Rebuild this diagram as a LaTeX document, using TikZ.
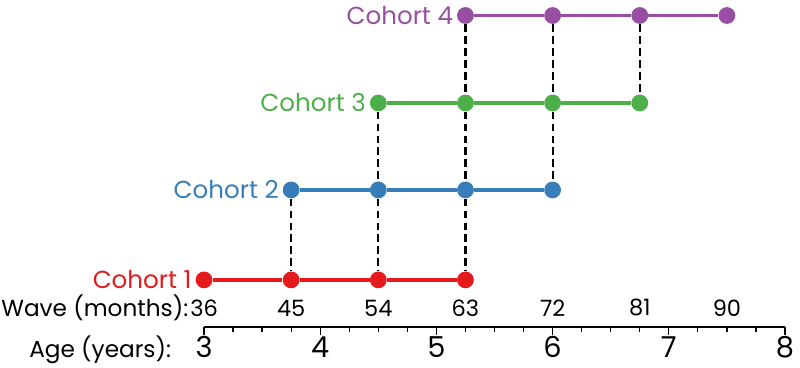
\documentclass[tikz,border=0pt]{standalone}
\usepackage{fontspec}
\setmainfont{Poppins}
\usetikzlibrary{positioning}
\definecolor{cohortred}{HTML}{E41A1C}
\definecolor{cohortblue}{HTML}{377EB8}
\definecolor{cohortgreen}{HTML}{4DAF4A}
\definecolor{cohortpurple}{HTML}{984EA3}

\begin{document}
\begin{tikzpicture}[x=0.2421cm, y=0.025cm,
    dot/.style={circle, inner sep=0pt, minimum size=0.42cm},
    link/.style={line width=2.3pt},
    guide/.style={line width=1.5pt, dash pattern=on 5.5pt off 3pt},
    cohortlab/.style={inner sep=0pt, font=\fontsize{17.5}{20}\selectfont},
    wavelab/.style={inner sep=0pt, font=\fontsize{16}{18}\selectfont},
    titlelab/.style={inner sep=0pt, font=\fontsize{16.5}{19}\selectfont},
    agelab/.style={inner sep=0pt, font=\fontsize{20.5}{23}\selectfont}]
  \useasboundingbox (14.93,0) rectangle (97.55,368);
  \foreach \k/\col/\y in {1/cohortred/88, 2/cohortblue/178, 3/cohortgreen/265, 4/cohortpurple/352.5} {
    \pgfmathtruncatemacro\first{27+9*\k}
    \foreach \j in {0,...,3} {
      \pgfmathtruncatemacro\w{\first+9*\j}
      \node[dot, fill=\col] (c\k w\w) at (\w,\y) {};
    }
    \foreach \j in {0,1,2} {
      \pgfmathtruncatemacro\a{\first+9*\j}
      \pgfmathtruncatemacro\b{\a+9}
      \draw[link, \col] (c\k w\a) -- (c\k w\b);
    }
    \node[cohortlab, text=\col, left=2.5pt of c\k w\first] (lab\k) {Cohort \k};
  }
  \foreach \k in {1,2,3} {
    \pgfmathtruncatemacro\up{\k+1}
    \foreach \j in {1,2,3} {
      \pgfmathtruncatemacro\w{27+9*\k+9*\j}
      \draw[guide] (c\up w\w) -- (c\k w\w);
    }
  }
  \foreach \w in {36,45,...,90}
    \node[wavelab] (w\w) at (\w,60) {\w};
  \node[titlelab, anchor=base east] (wavetitle) at ([xshift=-1pt]w36.base west) {Wave (months):};
  \coordinate (ax0) at (36,41);
  \coordinate (ax1) at (96,41);
  \draw[line width=1pt] (ax0) -- (ax1);
  \foreach \m in {39,42,...,93}
    \draw[line width=0.9pt] (\m,41) -- ++(0,-5);
  \foreach \a in {3,...,8} {
    \draw[line width=0.9pt] (12*\a,41) -- ++(0,-8);
    \node[agelab] (age\a) at (12*\a,21) {\a};
  }
  \node[titlelab, anchor=base east] (agetitle) at ([xshift=-17pt]age3.base west) {Age (years):};
\end{tikzpicture}
\end{document}
